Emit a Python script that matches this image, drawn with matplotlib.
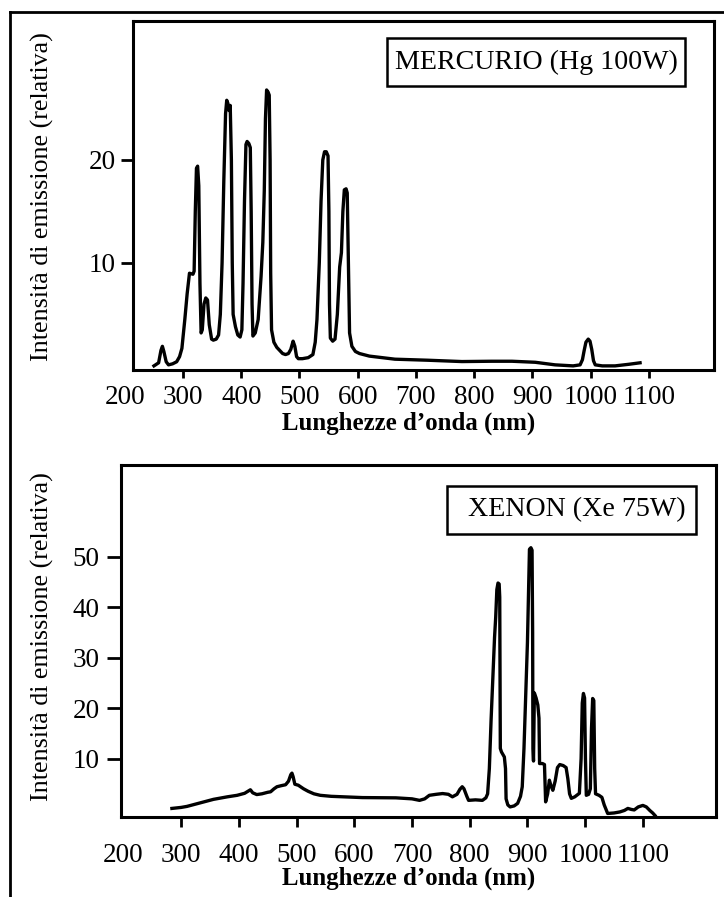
import matplotlib
matplotlib.use("Agg")
import matplotlib.pyplot as plt
import matplotlib.transforms as mtransforms
from matplotlib.patches import Rectangle
from matplotlib.lines import Line2D

plt.rcParams['font.family'] = ['Liberation Serif', 'DejaVu Serif']

# Mercury lamp spectrum (Hg 100W)
hg_nm = [250, 258, 262, 264.5, 267, 271, 275, 282, 289, 294, 298, 303, 307, 311, 317, 319,
         321, 323, 325, 327, 329, 331, 333, 336, 339, 342, 345, 349, 352, 357, 361, 364,
         367, 370, 373, 375, 377, 379, 381, 383, 384.5, 386, 390, 394, 398, 401, 403, 405.5,
         408, 410, 413, 415.5, 417, 418.5, 420, 424, 429, 434, 437, 439.5, 441.5, 443.5, 446,
         448, 449.5, 450.5, 452, 456, 461, 466, 471, 476, 481, 485, 489, 492, 495, 498, 505,
         515, 523, 527, 530, 534, 537, 540, 543, 546, 549, 550.5, 551.5, 553, 557, 561, 565,
         569, 572, 574.5, 577, 580, 582, 584, 586, 590, 596, 603, 620, 664, 720, 779, 830,
         865, 905, 939, 970, 982, 986, 989, 992, 996, 999, 1002, 1005, 1008, 1020, 1042,
         1065, 1085]
hg_val = [0.0, 0.3, 1.5, 1.9, 1.4, 0.4, 0.1, 0.2, 0.4, 0.9, 1.7, 4.5, 7.0, 9.0, 8.9, 9.2,
          15.0, 19.2, 19.4, 17.5, 8.0, 3.2, 3.5, 6.0, 6.6, 6.4, 4.0, 2.6, 2.5, 2.6, 3.0, 5.0,
          10.0, 18.0, 24.5, 25.8, 25.5, 24.8, 25.3, 20.0, 10.0, 5.0, 3.8, 3.0, 2.8, 3.5, 8.0, 16.0,
          21.5, 21.8, 21.6, 21.2, 15.0, 6.0, 2.9, 3.2, 4.5, 8.7, 12.0, 17.0, 24.0, 26.8, 26.6,
          26.3, 20.0, 9.0, 3.5, 2.3, 1.8, 1.5, 1.2, 1.1, 1.2, 1.6, 2.4, 1.9, 0.9, 0.7, 0.7,
          0.8, 1.1, 2.3, 4.5, 10.0, 16.0, 20.0, 20.8, 20.8, 20.4, 15.0, 6.0, 2.7, 2.4, 2.6, 5.0,
          9.6, 11.0, 15.0, 17.1, 17.2, 16.8, 10.0, 3.2, 1.9, 1.4, 1.2, 0.95, 0.65, 0.55, 0.42, 0.45,
          0.45, 0.35, 0.1, 0.0, 0.1, 0.6, 1.5, 2.3, 2.6, 2.4, 1.6, 0.5, 0.1, 0.0, 0.0,
          0.15, 0.3]

# Xenon lamp spectrum (Xe 75W)
xe_nm = [284, 300, 310, 330, 356, 380, 397, 410, 417, 420, 424, 431, 440, 450, 455, 461,
         466, 473, 481, 486, 490, 492, 494, 497, 503, 512, 520, 530, 541, 560, 582, 614,
         672, 700, 713, 722, 730, 742, 753, 763, 770, 778, 783, 787, 790, 795, 798, 810,
         822, 828, 831, 834, 837, 840, 843, 845, 847, 849, 851, 852, 852.5, 853, 855, 860,
         862, 863, 866, 870, 877, 883, 888, 891, 894, 897.5, 900, 902, 903.5, 906, 908, 909,
         909.5, 910.5, 912, 915, 918, 920, 921, 926, 929.5, 931.5, 935, 938, 941, 944, 948,
         952, 956, 962, 967, 970, 973, 976, 982, 990, 993, 995, 997, 999, 1000.5, 1002, 1006,
         1009, 1011, 1013, 1015, 1016.5, 1018, 1024, 1029, 1033, 1039, 1050, 1060, 1068, 1074,
         1080, 1085, 1092, 1100, 1106, 1112, 1117, 1121]
xe_val = [0.1, 0.3, 0.5, 1.1, 1.9, 2.4, 2.7, 3.1, 3.6, 3.8, 3.2, 2.85, 3.0, 3.3, 3.4, 4.0,
          4.4, 4.6, 4.8, 5.5, 6.8, 7.1, 6.4, 4.9, 4.7, 4.0, 3.5, 3.0, 2.7, 2.5, 2.4, 2.25,
          2.2, 2.0, 1.7, 2.0, 2.7, 2.9, 3.05, 2.9, 2.4, 2.9, 3.9, 4.4, 4.0, 2.5, 1.7, 1.8,
          1.7, 2.2, 3.0, 8.0, 17.6, 26.0, 34.0, 38.0, 43.5, 44.8, 44.6, 42.0, 25.0, 12.0, 11.3, 10.3,
          8.0, 2.0, 0.8, 0.4, 0.6, 1.1, 2.5, 4.4, 12.0, 24.0, 33.0, 44.0, 51.5, 51.8, 51.3, 35.0,
          12.0, 9.5, 23.0, 22.0, 20.6, 18.0, 9.0, 9.0, 8.8, 1.4, 3.0, 5.7, 4.5, 3.7, 5.5,
          8.2, 8.8, 8.6, 8.2, 6.0, 3.0, 2.1, 2.4, 3.1, 10.0, 21.0, 22.9, 22.0, 10.0, 2.7, 2.9,
          4.0, 16.0, 21.9, 21.5, 8.0, 3.0, 2.7, 2.3, 0.8, -0.9, -0.8, -0.6, -0.3, 0.1,
          -0.1, -0.2, 0.4, 0.7, 0.4, -0.3, -0.8, -1.3]

x_ticks = [300, 400, 500, 600, 700, 800, 900, 1000, 1100]
hg_yticks = [10, 20]
xe_yticks = [10, 20, 30, 40, 50]

W, H = 724, 897
fig = plt.figure(figsize=(W / 100, H / 100), dpi=100)

def px_axes(left, top, right, bottom):
    return fig.add_axes([left / W, 1 - bottom / H, (right - left) / W, (bottom - top) / H])

ax1 = px_axes(133, 21, 714, 370)
ax2 = px_axes(121, 465, 716, 817)

tick_fs = 19.5
spine_lw = 2.2

def style(ax, xlim, ylim, yticks, xlen, xpad, ylen, ypad):
    ax.set_xlim(*xlim)
    ax.set_ylim(*ylim)
    ax.set_xticks(x_ticks)
    ax.set_xticklabels([str(t) for t in x_ticks])
    ax.set_yticks(yticks)
    ax.set_yticklabels([str(t) for t in yticks])
    for s in ax.spines.values():
        s.set_linewidth(spine_lw)
    ax.tick_params(axis='x', direction='out', length=xlen, width=2.0, pad=xpad, labelsize=tick_fs)
    ax.tick_params(axis='y', direction='out', length=ylen, width=2.0, pad=ypad, labelsize=tick_fs)
    # "200" has no tick, only a label
    trans = mtransforms.offset_copy(ax.get_xaxis_transform(), fig=fig, y=-(xlen + xpad), units='points')
    ax.text(200, 0, '200', transform=trans, ha='center', va='top', fontsize=tick_fs, clip_on=False)

style(ax1, (214, 1212), (-0.4, 33.5), hg_yticks, 5.5, 5.5, 8.5, 4.0)
style(ax2, (195.8, 1226.7), (-1.6, 68.2), xe_yticks, 7.0, 11.5, 10.0, 5.5)

ax1.plot(hg_nm, hg_val, color='black', lw=2.4, solid_joinstyle='round')
ax2.plot(xe_nm, xe_val, color='black', lw=2.4, solid_joinstyle='round')

# boxed labels
ax1.add_patch(Rectangle((0.437, 0.814), 0.513, 0.137, transform=ax1.transAxes,
                        fill=False, lw=1.8, ec='black'))
ax1.text(0.6936, 0.8825, 'MERCURIO (Hg 100W)', transform=ax1.transAxes,
         ha='center', va='center', fontsize=20.2)
ax2.add_patch(Rectangle((0.548, 0.804), 0.418, 0.136, transform=ax2.transAxes,
                        fill=False, lw=1.8, ec='black'))
ax2.text(0.766, 0.872, 'XENON (Xe 75W)', transform=ax2.transAxes,
         ha='center', va='center', fontsize=20.2)

ylab = 'Intensità di emissione (relativa)'
fig.text(42 / W, 1 - 197 / H, ylab, rotation=90, ha='center', va='center', fontsize=18.7)
fig.text(42 / W, 1 - 637 / H, ylab, rotation=90, ha='center', va='center', fontsize=18.7)

xlab = 'Lunghezze d\u2019onda (nm)'
fig.text(409 / W, 1 - 423 / H, xlab, ha='center', va='center', fontsize=17.9, fontweight='bold')
fig.text(409 / W, 1 - 878 / H, xlab, ha='center', va='center', fontsize=17.9, fontweight='bold')

# outer frame (top and left edges only)
fig.add_artist(Line2D([10 / W, 1.0], [1 - 12 / H, 1 - 12 / H], transform=fig.transFigure,
                      color='black', lw=2.0))
fig.add_artist(Line2D([10 / W, 10 / W], [1 - 12 / H, 0.0], transform=fig.transFigure,
                      color='black', lw=2.0))

fig.savefig('out.png', dpi=100)
